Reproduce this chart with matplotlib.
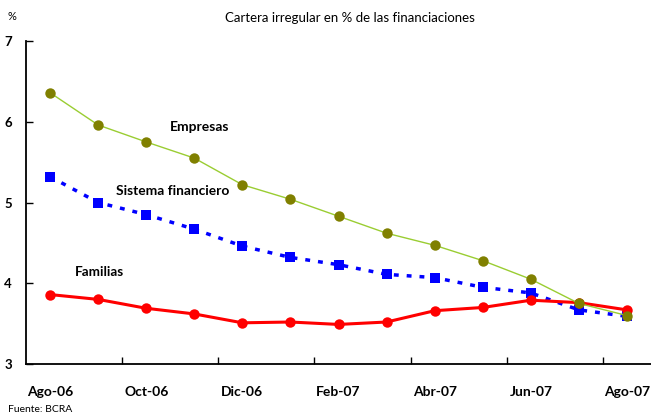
import matplotlib
matplotlib.use("Agg")
import matplotlib.pyplot as plt
import numpy as np

# datos (cartera irregular, % de financiaciones)
meses = ["Ago-06", "Sep-06", "Oct-06", "Nov-06", "Dic-06", "Ene-07", "Feb-07",
         "Mar-07", "Abr-07", "May-07", "Jun-07", "Jul-07", "Ago-07"]
empresas = [6.36, 5.96, 5.75, 5.55, 5.22, 5.04, 4.83, 4.62, 4.47, 4.28, 4.05, 3.75, 3.60]
sistema = [5.32, 5.00, 4.85, 4.67, 4.46, 4.32, 4.23, 4.11, 4.07, 3.95, 3.88, 3.67, 3.59]
familias = [3.86, 3.80, 3.69, 3.62, 3.51, 3.52, 3.49, 3.52, 3.66, 3.70, 3.79, 3.76, 3.67]

plt.rcParams['font.family'] = ['Lato', 'DejaVu Sans']

fig = plt.figure(figsize=(6.51, 4.17), dpi=100)
ax = fig.add_axes([26 / 651, 1 - 364 / 417, 1 - 26 / 651, (364 - 41) / 417])

x = np.arange(len(meses))

# sistema financiero: azul punteado con cuadrados
ax.plot(x, sistema, color='#0000ff', lw=2.5, dashes=(1.4, 2.3),
        marker='s', markersize=6.5, markeredgewidth=0, zorder=2)
# familias: rojo grueso con circulos
ax.plot(x, familias, color='#ff0000', lw=2.2, marker='o', markersize=7.5,
        markeredgewidth=0, zorder=3)
# empresas: linea fina verde con circulos oliva
ax.plot(x, empresas, color='#9acd32', lw=1.0, zorder=4)
ax.plot(x, empresas, ls='none', marker='o', markersize=7.5, color='#808000',
        markeredgewidth=0, zorder=5)

# etiquetas de series
ax.text(3.12, 5.935, "Empresas", fontsize=10, fontweight='bold', ha='center', va='center')
ax.text(2.55, 5.14, "Sistema financiero", fontsize=9.9, fontweight='bold', ha='center', va='center')
ax.text(1.02, 4.14, "Familias", fontsize=9.7, fontweight='bold', ha='center', va='center')

# ejes
ax.set_xlim(-0.5, len(meses) - 0.5)
ax.set_ylim(3, 7)
ax.set_yticks([3, 4, 5, 6, 7])
ax.set_yticklabels(["3", "4", "5", "6", "7"], fontsize=9.5, fontweight='bold')
ax.set_xticks(x[::2])
ax.set_xticklabels(meses[::2], fontsize=10, fontweight='bold')
ax.set_xticks(np.arange(1.5, len(meses), 2), minor=True)

ax.tick_params(axis='x', which='major', length=0, pad=16)
ax.tick_params(axis='x', which='minor', direction='in', length=5, width=1)
ax.tick_params(axis='y', direction='in', length=5, width=1, pad=10)

for s in ['top', 'right']:
    ax.spines[s].set_visible(False)
for s in ['left', 'bottom']:
    ax.spines[s].set_linewidth(1.3)
    ax.spines[s].set_color('#000000')

fig.text(12 / 651, 1 - 17 / 417, "%", fontsize=8, ha='center', va='center')
fig.text(350 / 651, 1 - 18 / 417, "Cartera irregular en % de las financiaciones",
         fontsize=9.5, ha='center', va='center')
fig.text(8 / 651, 1 - 410 / 417, "Fuente: BCRA", fontsize=7.5, ha='left', va='center')

fig.savefig("out.png", dpi=100, facecolor='white')
